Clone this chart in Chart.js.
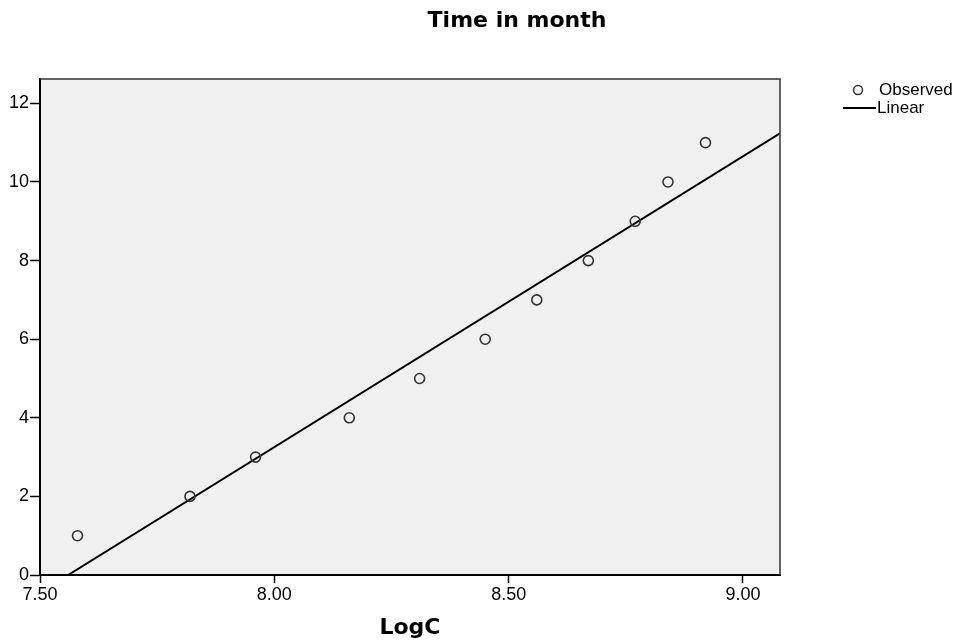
<!DOCTYPE html>
<html lang="en">
<head>
<meta charset="UTF-8">
<title>Time in month</title>
<script src="https://cdn.jsdelivr.net/npm/chart.js"></script>
<style>
  body { margin: 0; background: #fff; }
  canvas { display: block; }
</style>
</head>
<body>
<canvas id="grafico" width="963" height="644"></canvas>
<script>
// observed values
const logC = [7.58, 7.82, 7.96, 8.16, 8.31, 8.45, 8.56, 8.67, 8.77, 8.84, 8.92];
const months = [1, 2, 3, 4, 5, 6, 7, 8, 9, 10, 11];
// linear fit, end points
const fitX = [7.56, 9.079];
const fitY = [0, 11.24];

const chartTitle = 'Time in month';
const xTitle = 'LogC';
const legendNames = ['Observed', 'Linear'];

const tickFont = { family: 'Liberation Sans, Arial, sans-serif', size: 18 };

// grey plot background + top/right frame, title and legend
const plotFrame = {
  id: 'plotFrame',
  beforeDraw(chart) {
    const { ctx, chartArea: a } = chart;
    ctx.save();
    ctx.fillStyle = '#f0f0f0';
    ctx.fillRect(a.left, a.top, a.right - a.left, a.bottom - a.top);
    ctx.restore();
  },
  afterDraw(chart) {
    const { ctx, chartArea: a } = chart;
    ctx.save();
    ctx.strokeStyle = '#333';
    ctx.lineWidth = 1.5;
    ctx.beginPath();
    ctx.moveTo(a.left, a.top);
    ctx.lineTo(a.right, a.top);
    ctx.lineTo(a.right, a.bottom);
    ctx.stroke();

    // title
    ctx.fillStyle = '#000';
    ctx.font = 'bold 22px "DejaVu Sans", sans-serif';
    ctx.textAlign = 'center';
    ctx.textBaseline = 'middle';
    ctx.fillText(chartTitle, 517, 21);

    // legend
    ctx.font = '17px "Liberation Sans", Arial, sans-serif';
    ctx.textAlign = 'left';
    ctx.strokeStyle = '#333';
    ctx.lineWidth = 1.5;
    ctx.beginPath();
    ctx.arc(858, 90, 4.5, 0, Math.PI * 2);
    ctx.stroke();
    ctx.fillText(legendNames[0], 879, 90);
    ctx.strokeStyle = '#000';
    ctx.lineWidth = 2;
    ctx.beginPath();
    ctx.moveTo(843, 108);
    ctx.lineTo(876, 108);
    ctx.stroke();
    ctx.fillText(legendNames[1], 877, 108);
    ctx.restore();
  }
};

new Chart(document.getElementById('grafico'), {
  type: 'scatter',
  data: {
    datasets: [
      {
        label: legendNames[0],
        data: logC.map((x, i) => ({ x: x, y: months[i] })),
        pointRadius: 5,
        pointBorderWidth: 1.6,
        pointBorderColor: '#333',
        pointBackgroundColor: 'rgba(0,0,0,0)',
        showLine: false
      },
      {
        label: legendNames[1],
        type: 'line',
        data: fitX.map((x, i) => ({ x: x, y: fitY[i] })),
        borderColor: '#000',
        borderWidth: 2,
        pointRadius: 0,
        fill: false
      }
    ]
  },
  options: {
    responsive: false,
    animation: false,
    layout: { padding: { top: 79, right: 183, bottom: 0, left: 0 } },
    plugins: {
      legend: { display: false },
      title: { display: false },
      tooltip: { enabled: false }
    },
    scales: {
      x: {
        type: 'linear',
        min: 7.5,
        max: 9.079,
        afterFit: s => { s.height = 69; },
        ticks: {
          stepSize: 0.5,
          includeBounds: false,
          padding: 1,
          color: '#000',
          font: tickFont,
          maxRotation: 0,
          callback: v => v.toFixed(2)
        },
        grid: { drawOnChartArea: false, drawTicks: true, tickLength: 8, color: '#000', tickWidth: 1.5 },
        border: { display: true, color: '#000', width: 2 },
        title: {
          display: true,
          text: xTitle,
          color: '#000',
          font: { family: 'DejaVu Sans, sans-serif', size: 22, weight: 'bold' },
          padding: { top: 0, bottom: 3 }
        }
      },
      y: {
        type: 'linear',
        min: 0,
        max: 12.62,
        afterFit: s => { s.width = 40; },
        ticks: {
          stepSize: 2,
          includeBounds: false,
          padding: 1,
          color: '#000',
          font: tickFont
        },
        grid: { drawOnChartArea: false, drawTicks: true, tickLength: 10, color: '#000', tickWidth: 1.5 },
        border: { display: true, color: '#000', width: 2 }
      }
    }
  },
  plugins: [plotFrame]
});
</script>
</body>
</html>
